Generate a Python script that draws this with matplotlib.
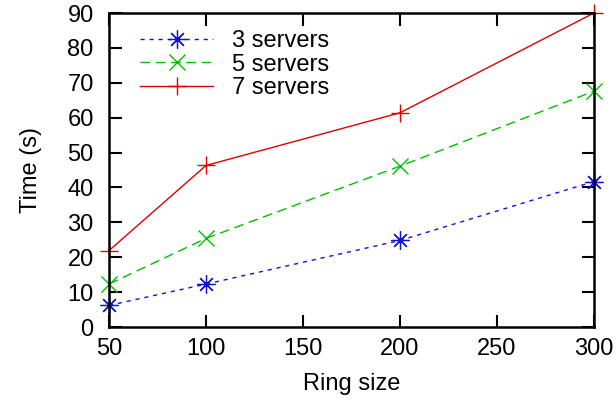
import matplotlib
matplotlib.use("Agg")
import matplotlib.pyplot as plt

plt.rcParams['font.family'] = ['Liberation Sans', 'DejaVu Sans']

ring_size = [50, 100, 200, 300]
servers3 = [6.2, 12.3, 24.8, 41.7]
servers5 = [12.3, 25.4, 46.1, 67.6]
servers7 = [21.9, 46.3, 61.4, 90.0]
labels = ['3 servers', '5 servers', '7 servers']

fig = plt.figure(figsize=(6.16, 4.04), dpi=100)
ax = fig.add_axes([109 / 616, 1 - 327 / 404, (594 - 109) / 616, (327 - 13) / 404])

ax.plot(ring_size, servers3, color='#1010e0', linestyle=(0, (3, 3.5)), linewidth=1,
        marker=(8, 2, 0), markersize=13, markeredgewidth=0.9, label=labels[0], clip_on=False)
ax.plot(ring_size, servers5, color='#00c000', linestyle=(0, (7, 4)), linewidth=1,
        marker='x', markersize=11.5, markeredgewidth=1, label=labels[1], clip_on=False)
ax.plot(ring_size, servers7, color='#e00000', linestyle='-', linewidth=1,
        marker='+', markersize=12.5, markeredgewidth=1, label=labels[2], clip_on=False)

ax.set_xlim(50, 300)
ax.set_ylim(0, 90)
ax.set_xticks([50, 100, 150, 200, 250, 300])
ax.set_yticks(range(0, 91, 10))
ax.tick_params(direction='in', length=9, width=1.5, top=True, right=True,
               labelsize=17)
ax.tick_params(axis='y', pad=11)
ax.tick_params(axis='x', pad=8)
for s in ax.spines.values():
    s.set_linewidth(1.8)

ax.set_xlabel('Ring size', fontsize=17, labelpad=9)
ax.set_ylabel('Time (s)', fontsize=17, labelpad=18)

ax.legend(loc='upper left', bbox_to_anchor=(0.035, 0.99), frameon=False, fontsize=17,
          handlelength=3.1, handletextpad=0.8, labelspacing=0.06, borderaxespad=0.2)

fig.savefig('out.png', dpi=100)
